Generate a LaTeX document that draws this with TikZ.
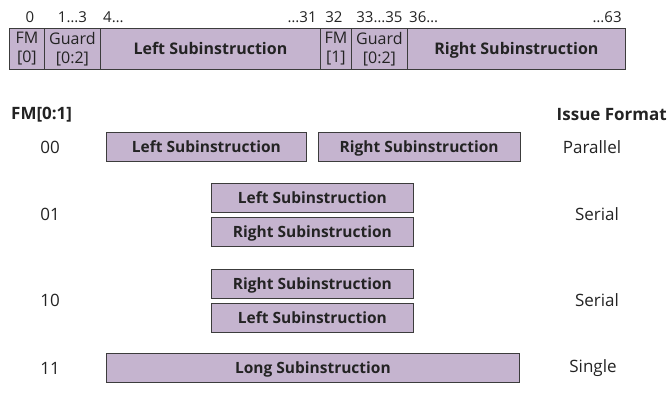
\documentclass[tikz,border=0pt]{standalone}
\usepackage{fontspec}
\setmainfont{Open Sans}
\usetikzlibrary{positioning}
\definecolor{subfill}{RGB}{197,180,207}
\definecolor{subline}{RGB}{60,60,60}
\definecolor{ink}{RGB}{35,35,35}

\begin{document}
\begin{tikzpicture}[x=1pt,y=-1pt,text=ink,
    field/.style={draw=subline,fill=subfill,line width=0.8pt,minimum height=41pt,
      inner sep=0pt,anchor=north west,align=center,font=\fontsize{16}{19}\selectfont},
    wide/.style={field,text height=12pt,text depth=1pt,font=\bfseries\fontsize{16}{18}\selectfont},
    subins/.style={draw=subline,fill=subfill,line width=0.8pt,minimum height=29pt,
      inner sep=0pt,text height=12pt,text depth=1pt,font=\bfseries\fontsize{15.5}{18}\selectfont},
    bitnum/.style={inner sep=0pt,font=\fontsize{15}{16}\selectfont},
    code/.style={font=\fontsize{17}{18}\selectfont},
    heading/.style={inner sep=0pt,font=\bfseries\fontsize{17}{19}\selectfont},
    node distance=4pt]
    \useasboundingbox (0,0) rectangle (668,394);

    % instruction word
    \node[field,minimum width=35pt]  (fm0)  at (9,28)   {FM\\{[0]}};
    \node[field,minimum width=56pt]  (grd0) at (44,28)  {Guard\\{[0:2]}};
    \node[wide,minimum width=220pt]  (lsub) at (100,28) {Left Subinstruction};
    \node[field,minimum width=31pt]  (fm1)  at (320,28) {FM\\{[1]}};
    \node[field,minimum width=56pt]  (grd1) at (351,28) {Guard\\{[0:2]}};
    \node[wide,minimum width=218pt]  (rsub) at (407,28) {Right Subinstruction};

    % bit positions
    \node[bitnum,above=5pt of fm0,xshift=3pt] (b0) {0};
    \node[bitnum,above=5pt of grd0] (b1)  {1…3};
    \node[bitnum,above right=5pt and 3pt of lsub.north west] (b4)  {4…};
    \node[bitnum,above left=5pt and 4pt of lsub.north east]  (b31) {…31};
    \node[bitnum,above=5pt of fm1,xshift=-2pt] (b32) {32};
    \node[bitnum,above=5pt of grd1] (b33) {33…35};
    \node[bitnum,above right=5pt and 2pt of rsub.north west] (b36) {36…};
    \node[bitnum,above left=5pt and 4pt of rsub.north east]  (b63) {…63};

    % table of formats
    \node[heading,anchor=west] (hfm)  at (11,115)  {FM[0:1]};
    \node[heading,anchor=east] (hfmt) at (667,115) {Issue Format};

    \node[code] (c00) at (50,147) {00};
    \node[subins,minimum width=200pt,anchor=west] (l00) at (106,147) {Left Subinstruction};
    \node[subins,minimum width=202pt,right=11pt of l00] (r00) {Right Subinstruction};
    \node[code] (f00) at (592,147) {Parallel};

    \node[code] (c01) at (50,214) {01};
    \node[subins,minimum width=202pt,anchor=north west] (l01) at (211,183) {Left Subinstruction};
    \node[subins,minimum width=202pt,below=of l01] (r01) {Right Subinstruction};
    \node[code] (f01) at (597,214) {Serial};

    \node[code] (c10) at (50,300) {10};
    \node[subins,minimum width=202pt,anchor=north west] (r10) at (211,269) {Right Subinstruction};
    \node[subins,minimum width=202pt,below=of r10] (l10) {Left Subinstruction};
    \node[code] (f10) at (597,300) {Serial};

    \node[code] (c11) at (50,368) {11};
    \node[subins,minimum width=413pt,anchor=west] (long) at (106,368) {Long Subinstruction};
    \node[code] (f11) at (593,368) {Single};
\end{tikzpicture}
\end{document}
